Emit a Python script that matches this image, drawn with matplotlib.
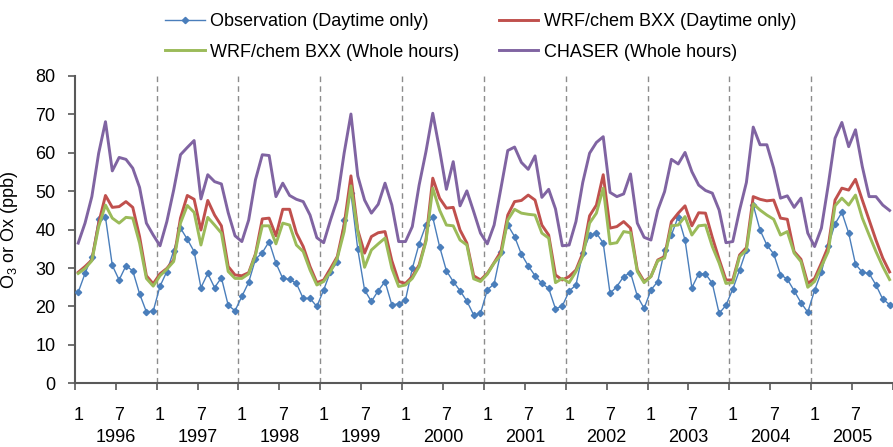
import numpy as np
import matplotlib
matplotlib.use("Agg")
import matplotlib.pyplot as plt
from matplotlib.transforms import blended_transform_factory

plt.rcParams['font.family'] = ['Liberation Sans', 'DejaVu Sans']
plt.rcParams['mathtext.default'] = 'regular'

# -----------------------------
# Monthly data, Jan 1996 - Dec 2005 (ppb)
# -----------------------------
years = [1996, 1997, 1998, 1999, 2000, 2001, 2002, 2003, 2004, 2005]
month_labels = ["1", "7"]

obs_daytime = [
    23.7, 28.6, 33.0, 42.8, 43.2, 30.7, 26.9, 30.6, 29.3, 23.3, 18.6, 18.8,
    25.3, 29.1, 34.5, 40.4, 37.5, 34.3, 24.9, 28.6, 24.9, 27.5, 20.3, 18.9,
    22.6, 26.3, 32.3, 34.0, 36.9, 31.3, 27.3, 27.1, 26.0, 22.1, 22.1, 20.0,
    24.3, 29.1, 31.5, 42.5, 49.5, 34.9, 24.3, 21.3, 24.1, 26.5, 20.4, 20.7,
    21.7, 29.9, 36.3, 41.2, 43.2, 35.6, 29.3, 26.5, 24.1, 21.4, 17.8, 18.2,
    24.3, 25.9, 34.3, 41.2, 38.2, 33.6, 30.6, 28.0, 26.0, 24.7, 19.4, 20.1,
    24.0, 25.6, 33.9, 38.6, 39.1, 36.5, 23.4, 25.2, 27.8, 28.8, 22.7, 19.5,
    24.3, 26.5, 34.7, 38.6, 43.4, 37.3, 24.9, 28.5, 28.5, 26.0, 18.2, 20.3,
    24.5, 29.5, 34.7, 46.4, 39.9, 36.0, 33.7, 28.3, 27.1, 24.1, 21.0, 18.5,
    24.2, 29.0, 35.8, 41.5, 44.5, 39.1, 31.0, 28.9, 28.6, 25.6, 21.9, 20.5,
]

wrf_daytime = [
    28.9, 30.4, 32.1, 41.7, 48.9, 45.8, 46.0, 47.3, 45.8, 38.2, 28.0, 25.9,
    28.5, 29.9, 32.1, 43.0, 48.9, 47.9, 39.9, 47.6, 43.8, 41.0, 30.4, 28.2,
    28.0, 28.8, 33.7, 42.8, 43.0, 38.4, 45.3, 45.3, 39.1, 35.6, 30.4, 26.2,
    26.9, 29.9, 33.0, 41.2, 54.0, 39.9, 33.9, 38.2, 39.2, 39.5, 31.9, 26.5,
    26.0, 27.8, 30.8, 37.3, 53.4, 48.2, 45.6, 45.8, 39.9, 36.5, 28.0, 26.9,
    28.6, 31.4, 34.3, 43.8, 47.3, 47.6, 49.0, 47.7, 41.2, 38.6, 28.2, 26.9,
    27.8, 29.5, 33.9, 43.6, 46.4, 54.3, 40.4, 40.8, 42.1, 40.4, 29.5, 26.5,
    27.8, 32.1, 33.0, 42.1, 44.3, 46.2, 41.0, 44.4, 44.3, 38.0, 32.3, 26.9,
    26.9, 33.4, 35.3, 48.6, 47.9, 47.5, 47.7, 43.0, 42.7, 34.3, 32.3, 26.0,
    27.3, 31.3, 35.6, 47.7, 50.8, 50.3, 53.1, 47.7, 42.5, 37.3, 32.6, 29.0,
]

wrf_whole = [
    28.6, 29.9, 31.9, 40.8, 46.4, 43.0, 41.7, 43.2, 43.0, 36.5, 27.3, 25.3,
    28.0, 29.7, 31.7, 41.7, 46.3, 44.5, 36.0, 43.2, 41.2, 39.1, 29.1, 27.3,
    27.3, 28.5, 33.4, 41.0, 41.0, 36.3, 41.7, 41.2, 36.0, 34.3, 29.5, 25.6,
    26.5, 29.1, 32.6, 39.5, 51.4, 39.5, 30.2, 34.7, 36.3, 37.8, 29.9, 25.2,
    25.6, 27.3, 30.4, 36.9, 50.8, 45.1, 41.2, 41.0, 37.3, 36.0, 27.2, 26.5,
    28.4, 31.3, 33.4, 42.5, 45.3, 44.3, 44.0, 43.8, 39.1, 37.8, 26.2, 27.3,
    26.2, 29.1, 33.0, 41.7, 44.3, 50.8, 36.3, 36.6, 39.5, 39.2, 29.1, 26.2,
    27.8, 31.9, 32.6, 41.0, 41.2, 43.4, 38.6, 41.0, 41.2, 35.6, 31.3, 26.0,
    26.2, 33.0, 34.7, 46.7, 45.1, 43.8, 42.7, 38.6, 39.5, 33.9, 31.7, 25.0,
    26.5, 30.4, 34.3, 46.2, 48.2, 46.4, 49.0, 43.0, 38.6, 34.3, 30.4, 27.0,
]

chaser_whole = [
    36.5, 41.7, 48.6, 59.9, 68.1, 55.3, 58.8, 58.3, 56.0, 51.0, 41.7, 38.6,
    35.8, 42.1, 50.3, 59.5, 61.4, 63.2, 48.0, 54.3, 52.5, 51.9, 44.4, 38.4,
    36.9, 42.5, 53.0, 59.5, 59.3, 48.6, 52.1, 48.9, 47.9, 47.3, 43.8, 37.9,
    36.6, 42.5, 47.9, 59.9, 70.1, 54.0, 47.7, 44.3, 46.6, 52.1, 46.4, 36.9,
    36.9, 40.8, 51.6, 60.3, 70.3, 60.8, 50.5, 57.7, 46.2, 50.1, 44.7, 39.1,
    36.3, 41.2, 50.8, 60.6, 61.5, 57.5, 55.7, 59.2, 48.4, 50.5, 45.4, 35.8,
    36.0, 42.1, 52.3, 59.9, 62.7, 64.2, 49.7, 48.6, 49.3, 54.5, 41.7, 38.0,
    37.3, 45.1, 49.9, 58.3, 57.1, 60.1, 55.1, 51.6, 50.2, 49.5, 45.1, 36.6,
    36.9, 45.1, 52.3, 66.7, 62.1, 62.1, 56.0, 48.2, 48.8, 45.8, 48.2, 39.1,
    35.6, 40.4, 51.6, 63.8, 67.9, 61.6, 66.0, 56.4, 48.6, 48.6, 46.4, 45.0,
]

# categories sit in the middle of each month slot
x = np.arange(len(obs_daytime)) + 0.5

FS = 13

fig = plt.figure(figsize=(8.93, 4.47), dpi=100)
ax = fig.add_axes([74.8 / 893, 1 - 383.3 / 447, 1 - 74.8 / 893, 307.3 / 447])

l_obs, = ax.plot(x, obs_daytime, color='#4A7EBB', lw=1.0, marker='D',
                 markersize=3.2, label='Observation (Daytime only)', zorder=3)
l_red, = ax.plot(x, wrf_daytime, color='#C0504D', lw=2.1,
                 label='WRF/chem BXX (Daytime only)', zorder=4)
l_grn, = ax.plot(x, wrf_whole, color='#9BBB59', lw=2.1,
                 label='WRF/chem BXX (Whole hours)', zorder=5)
l_pur, = ax.plot(x, chaser_whole, color='#8064A2', lw=2.1,
                 label='CHASER (Whole hours)', zorder=4)

# dashed year boundaries
for k in range(1, len(years)):
    ax.axvline(12 * k, color='#8C8C8C', lw=1.0, ls=(0, (4, 3)), zorder=1)

ax.set_xlim(0, (893 - 74.8) / 6.906)
ax.set_ylim(0, 80)
ax.set_yticks(range(0, 81, 10))
ax.set_xticks(np.arange(0, 121, 6))
ax.set_xticklabels([])
ax.tick_params(axis='both', direction='out', length=5, width=1.2,
               color='#595959', labelsize=FS)
ax.tick_params(axis='y', pad=9)
for side in ['top', 'right']:
    ax.spines[side].set_visible(False)
for side in ['left', 'bottom']:
    ax.spines[side].set_color('#595959')
    ax.spines[side].set_linewidth(1.5)

# month and year labels under the axis
trans = blended_transform_factory(ax.transData, ax.transAxes)
for k, yr in enumerate(years):
    for j, lab in enumerate(month_labels):
        ax.text(12 * k + 6 * j + 0.5, -0.105, lab, transform=trans,
                ha='center', va='center', fontsize=FS, clip_on=False)
    ax.text(12 * k + 6, -0.178, str(yr), transform=trans,
            ha='center', va='center', fontsize=FS, clip_on=False)

ax.set_ylabel('O$_3$ or Ox (ppb)', fontsize=FS)
ax.yaxis.set_label_coords(-(74.8 - 20) / 818.2, 0.5)

fig.legend([l_obs, l_grn, l_red, l_pur],
           [l_obs.get_label(), l_grn.get_label(), l_red.get_label(), l_pur.get_label()],
           loc='upper left', bbox_to_anchor=(165 / 893, 1 - 13 / 447),
           ncol=2, frameon=False, fontsize=FS, borderpad=0, borderaxespad=0,
           handlelength=2.2, handletextpad=0.28, columnspacing=2.2,
           labelspacing=0.75)

fig.savefig('out.png', dpi=100)
